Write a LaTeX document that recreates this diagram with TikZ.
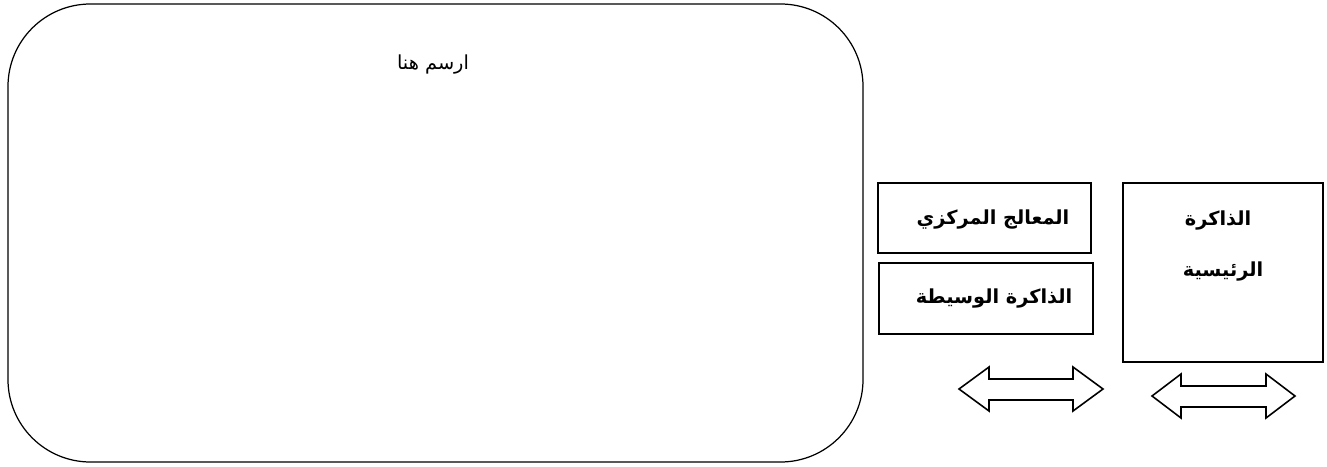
\documentclass[tikz,border=0pt]{standalone}
\usepackage{fontspec}
\newfontfamily\arabicfont[Script=Arabic]{DejaVu Sans}
\TeXXeTstate=1
\usepackage{tikz}
\usetikzlibrary{positioning}

\begin{document}
\begin{tikzpicture}[x=0.02cm, y=-0.02cm,
    blk/.style={draw, line width=0.9pt, inner sep=0pt},
    lbl/.style={font=\arabicfont\bfseries\fontsize{11}{13}\selectfont, align=center},
    dblarr/.style={draw, line width=0.9pt, fill=white},
  ]
  \useasboundingbox (0,0) rectangle (1327,466);

  % Drawing area
  \draw[line width=0.7pt, rounded corners=1.65cm] (8,4) rectangle (863,462);
  \node[font=\arabicfont\fontsize{11}{13}\selectfont] (hint) at (433,65) {\beginR ارسم هنا\endR};

  % Boxes
  \node[blk, minimum width=4.26cm, minimum height=1.40cm] (cpu)   at (984.5,218) {};
  \node[blk, minimum width=4.28cm, minimum height=1.42cm] (cache) at (986,298.5) {};
  \node[blk, minimum width=4.00cm, minimum height=3.58cm] (ram)   at (1223,272.5) {};

  % Labels
  \node[lbl] (cpu_txt)   at (993,220)  {\beginR المعالج المركزي\endR};
  \node[lbl] (cache_txt) at (994,299)  {\beginR الذاكرة الوسيطة\endR};
  \node[lbl] (ram_txt1)  at (1218,221) {\beginR الذاكرة\endR};
  \node[lbl] (ram_txt2)  at (1223,272) {\beginR الرئيسية\endR};

  % Double arrows
  \draw[dblarr] (959,389) -- (989,367) -- (989,379) -- (1073,379) -- (1073,367)
    -- (1103,389) -- (1073,411) -- (1073,400) -- (989,400) -- (989,411) -- cycle;
  \draw[dblarr] (1152,396) -- (1181,374) -- (1181,386) -- (1266,386) -- (1266,374)
    -- (1295,396) -- (1266,418) -- (1266,407) -- (1181,407) -- (1181,418) -- cycle;
\end{tikzpicture}
\end{document}
